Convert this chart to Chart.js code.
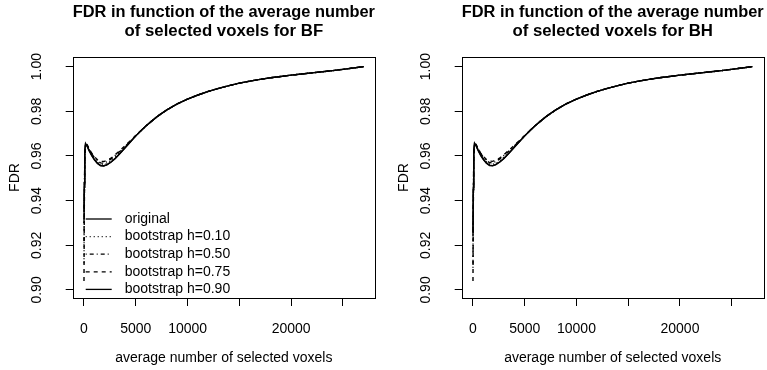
<!DOCTYPE html>
<html>
<head>
<meta charset="utf-8">
<script src="https://cdn.jsdelivr.net/npm/chart.js@4/dist/chart.umd.min.js"></script>
<style>
  html, body { margin: 0; padding: 0; background: #fff; }
  body { width: 767px; height: 370px; position: relative; overflow: hidden; }
  .panel { position: absolute; top: 0; height: 370px; }
  #p1 { left: 0; width: 383px; }
  #p2 { left: 389px; width: 378px; }
</style>
</head>
<body>
<div class="panel" id="p1"><canvas id="c1"></canvas></div>
<div class="panel" id="p2"><canvas id="c2"></canvas></div>
<script>
// ---- data ----
const xVoxels = [0, 30, 80, 150, 300, 500, 750, 1000, 1300, 1600, 1900, 2200, 2600, 3000, 3500, 4000, 4500, 5000, 5500, 6000, 6500, 7000, 7500, 8000, 8500, 9000, 10000, 11000, 12000, 13000, 14000, 15000, 16000, 17000, 18000, 19000, 20000, 21000, 22000, 23000, 24000, 25000, 26000, 27000];

const bfOriginal = [0.935, 0.948, 0.962, 0.9652, 0.9645, 0.9625, 0.9603, 0.9585, 0.9568, 0.9558, 0.9556, 0.9560, 0.9572, 0.9588, 0.9612, 0.9638, 0.9664, 0.9690, 0.9713, 0.9735, 0.9755, 0.9774, 0.9791, 0.9806, 0.9820, 0.9833, 0.9855, 0.9873, 0.9889, 0.9903, 0.9915, 0.9926, 0.9935, 0.9943, 0.9950, 0.9956, 0.9962, 0.9967, 0.9972, 0.9977, 0.9982, 0.9988, 0.9994, 1.0000];
const bfH010 = [0.912, 0.940, 0.960, 0.9648, 0.9646, 0.9628, 0.9606, 0.9589, 0.9573, 0.9563, 0.9562, 0.9566, 0.9578, 0.9594, 0.9616, 0.9641, 0.9666, 0.9691, 0.9713, 0.9735, 0.9755, 0.9774, 0.9791, 0.9806, 0.9820, 0.9833, 0.9855, 0.9873, 0.9889, 0.9903, 0.9915, 0.9926, 0.9935, 0.9943, 0.9950, 0.9956, 0.9962, 0.9967, 0.9972, 0.9977, 0.9982, 0.9988, 0.9994, 1.0000];
const bfH050 = [0.920, 0.942, 0.961, 0.9655, 0.9649, 0.9631, 0.9610, 0.9593, 0.9578, 0.9569, 0.9568, 0.9574, 0.9586, 0.9602, 0.9622, 0.9644, 0.9667, 0.9691, 0.9714, 0.9735, 0.9755, 0.9774, 0.9791, 0.9806, 0.9820, 0.9833, 0.9855, 0.9873, 0.9889, 0.9903, 0.9915, 0.9926, 0.9935, 0.9943, 0.9950, 0.9956, 0.9962, 0.9967, 0.9972, 0.9977, 0.9982, 0.9988, 0.9994, 1.0000];
const bfH075 = [0.904, 0.936, 0.958, 0.9645, 0.9650, 0.9632, 0.9612, 0.9597, 0.9583, 0.9576, 0.9575, 0.9580, 0.9590, 0.9605, 0.9626, 0.9647, 0.9669, 0.9692, 0.9714, 0.9735, 0.9755, 0.9774, 0.9791, 0.9806, 0.9820, 0.9833, 0.9855, 0.9873, 0.9889, 0.9903, 0.9915, 0.9926, 0.9935, 0.9943, 0.9950, 0.9956, 0.9962, 0.9967, 0.9972, 0.9977, 0.9982, 0.9988, 0.9994, 1.0000];
const bfH090 = [0.930, 0.946, 0.963, 0.9656, 0.9644, 0.9623, 0.9601, 0.9583, 0.9566, 0.9556, 0.9555, 0.9560, 0.9573, 0.9589, 0.9613, 0.9639, 0.9665, 0.9690, 0.9713, 0.9735, 0.9755, 0.9774, 0.9791, 0.9806, 0.9820, 0.9833, 0.9855, 0.9873, 0.9889, 0.9903, 0.9915, 0.9926, 0.9935, 0.9943, 0.9950, 0.9956, 0.9962, 0.9967, 0.9972, 0.9977, 0.9982, 0.9988, 0.9994, 1.0000];

const bhOriginal = [0.926, 0.946, 0.962, 0.9655, 0.9647, 0.9627, 0.9604, 0.9586, 0.9569, 0.9559, 0.9557, 0.9561, 0.9573, 0.9589, 0.9613, 0.9639, 0.9665, 0.9690, 0.9713, 0.9735, 0.9755, 0.9774, 0.9791, 0.9806, 0.9820, 0.9833, 0.9855, 0.9873, 0.9889, 0.9903, 0.9915, 0.9926, 0.9935, 0.9943, 0.9950, 0.9956, 0.9962, 0.9967, 0.9972, 0.9977, 0.9982, 0.9988, 0.9994, 1.0000];
const bhH010 = [0.915, 0.942, 0.960, 0.9650, 0.9647, 0.9629, 0.9607, 0.9590, 0.9574, 0.9564, 0.9563, 0.9567, 0.9579, 0.9595, 0.9617, 0.9642, 0.9666, 0.9691, 0.9713, 0.9735, 0.9755, 0.9774, 0.9791, 0.9806, 0.9820, 0.9833, 0.9855, 0.9873, 0.9889, 0.9903, 0.9915, 0.9926, 0.9935, 0.9943, 0.9950, 0.9956, 0.9962, 0.9967, 0.9972, 0.9977, 0.9982, 0.9988, 0.9994, 1.0000];
const bhH050 = [0.910, 0.940, 0.961, 0.9656, 0.9650, 0.9632, 0.9611, 0.9594, 0.9579, 0.9570, 0.9569, 0.9575, 0.9587, 0.9603, 0.9623, 0.9645, 0.9668, 0.9691, 0.9714, 0.9735, 0.9755, 0.9774, 0.9791, 0.9806, 0.9820, 0.9833, 0.9855, 0.9873, 0.9889, 0.9903, 0.9915, 0.9926, 0.9935, 0.9943, 0.9950, 0.9956, 0.9962, 0.9967, 0.9972, 0.9977, 0.9982, 0.9988, 0.9994, 1.0000];
const bhH075 = [0.904, 0.936, 0.958, 0.9646, 0.9651, 0.9633, 0.9613, 0.9598, 0.9584, 0.9577, 0.9576, 0.9581, 0.9591, 0.9606, 0.9627, 0.9648, 0.9670, 0.9692, 0.9714, 0.9735, 0.9755, 0.9774, 0.9791, 0.9806, 0.9820, 0.9833, 0.9855, 0.9873, 0.9889, 0.9903, 0.9915, 0.9926, 0.9935, 0.9943, 0.9950, 0.9956, 0.9962, 0.9967, 0.9972, 0.9977, 0.9982, 0.9988, 0.9994, 1.0000];
const bhH090 = [0.924, 0.945, 0.963, 0.9657, 0.9645, 0.9624, 0.9602, 0.9584, 0.9567, 0.9557, 0.9556, 0.9561, 0.9574, 0.9590, 0.9614, 0.9640, 0.9665, 0.9690, 0.9713, 0.9735, 0.9755, 0.9774, 0.9791, 0.9806, 0.9820, 0.9833, 0.9855, 0.9873, 0.9889, 0.9903, 0.9915, 0.9926, 0.9935, 0.9943, 0.9950, 0.9956, 0.9962, 0.9967, 0.9972, 0.9977, 0.9982, 0.9988, 0.9994, 1.0000];

const seriesNames = ['original', 'bootstrap h=0.10', 'bootstrap h=0.50', 'bootstrap h=0.75', 'bootstrap h=0.90'];
const xTickValues = [0, 5000, 10000, 15000, 20000, 25000];
const xTickLabels = ['0', '5000', '10000', '', '20000', ''];
const yTickValues = [0.90, 0.92, 0.94, 0.96, 0.98, 1.00];
const yTickLabels = ['0.90', '0.92', '0.94', '0.96', '0.98', '1.00'];
const titleBF = ['FDR in function of the average number', 'of selected voxels for BF'];
const titleBH = ['FDR in function of the average number', 'of selected voxels for BH'];

// ---- styling ----
const FONT = '"Liberation Sans", Arial, Helvetica, sans-serif';
const dashes = [[], [1, 3], [1, 3, 4, 3], [4, 4], []];

function makeDatasets(arrays) {
  return arrays.map((arr, i) => ({
    label: seriesNames[i],
    data: xVoxels.map((x, k) => ({ x: x, y: arr[k] })),
    borderColor: '#000',
    borderWidth: 1.4,
    borderDash: dashes[i],
    pointRadius: 0,
    tension: 0,
    fill: false
  }));
}

const boxAndLabels = {
  id: 'boxAndLabels',
  afterDraw(chart, args, opts) {
    const ctx = chart.ctx;
    const a = chart.chartArea;
    ctx.save();
    ctx.strokeStyle = '#000';
    ctx.lineWidth = 1;
    ctx.strokeRect(Math.round(a.left) + 0.5, Math.round(a.top) + 0.5,
                   Math.round(a.right - a.left), Math.round(a.bottom - a.top));
    const ys = chart.scales.y;
    ctx.fillStyle = '#000';
    ctx.font = '14px ' + FONT;
    ctx.textAlign = 'center';
    ctx.textBaseline = 'middle';
    yTickValues.forEach((v, i) => {
      const py = ys.getPixelForValue(v);
      ctx.save();
      ctx.translate(a.left - 35.5, py);
      ctx.rotate(-Math.PI / 2);
      ctx.fillText(yTickLabels[i], 0, 0);
      ctx.restore();
    });
    if (opts.legend) {
      ctx.textAlign = 'left';
      seriesNames.forEach((name, i) => {
        const ry = a.bottom - 79 + i * 17.6;
        ctx.beginPath();
        ctx.setLineDash(dashes[i]);
        ctx.lineWidth = 1.3;
        ctx.moveTo(a.left + 13, ry);
        ctx.lineTo(a.left + 39, ry);
        ctx.stroke();
        ctx.setLineDash([]);
        ctx.fillText(name, a.left + 52, ry);
      });
    }
    ctx.restore();
  }
};

function makeChart(id, arrays, title, withLegend, padRight) {
  return new Chart(document.getElementById(id), {
    type: 'line',
    data: { datasets: makeDatasets(arrays) },
    options: {
      responsive: true,
      maintainAspectRatio: false,
      animation: false,
      layout: { padding: { left: 0, right: padRight, top: 0, bottom: 0 } },
      plugins: {
        legend: { display: false },
        tooltip: { enabled: false },
        title: {
          display: true,
          text: title,
          fullSize: false,
          color: '#000',
          font: { family: FONT, size: 16.8, weight: 'bold', lineHeight: 1.15 },
          padding: { top: 2.5, bottom: 15.9 }
        },
        boxAndLabels: { legend: withLegend }
      },
      scales: {
        x: {
          type: 'linear',
          min: -1090,
          max: 28090,
          afterBuildTicks: (s) => { s.ticks = xTickValues.map(v => ({ value: v })); },
          afterFit: (s) => { s.height = 72; },
          ticks: {
            autoSkip: false,
            maxRotation: 0,
            minRotation: 0,
            padding: 15,
            color: '#000',
            font: { family: FONT, size: 14 },
            callback: (v) => { const i = xTickValues.indexOf(v); return i >= 0 ? xTickLabels[i] : ''; }
          },
          grid: { display: true, drawOnChartArea: false, drawTicks: true, tickLength: 8, color: '#000', lineWidth: 1 },
          border: { display: false },
          title: {
            display: true,
            text: 'average number of selected voxels',
            color: '#000',
            font: { family: FONT, size: 14, lineHeight: 1.2 },
            padding: { top: 0, bottom: 3 }
          }
        },
        y: {
          type: 'linear',
          min: 0.8964,
          max: 1.0043,
          afterBuildTicks: (s) => { s.ticks = yTickValues.map(v => ({ value: v })); },
          afterFit: (s) => { s.width = 72.7; },
          ticks: { display: false },
          grid: { display: true, drawOnChartArea: false, drawTicks: true, tickLength: 7, color: '#000', lineWidth: 1 },
          border: { display: false },
          title: {
            display: true,
            text: 'FDR',
            color: '#000',
            font: { family: FONT, size: 14, lineHeight: 1.2 },
            padding: { top: 7, bottom: 0 }
          }
        }
      }
    },
    plugins: [boxAndLabels]
  });
}

makeChart('c1', [bfOriginal, bfH010, bfH050, bfH075, bfH090], titleBF, true, 8);
makeChart('c2', [bhOriginal, bhH010, bhH050, bhH075, bhH090], titleBH, false, 3.3);
</script>
</body>
</html>
